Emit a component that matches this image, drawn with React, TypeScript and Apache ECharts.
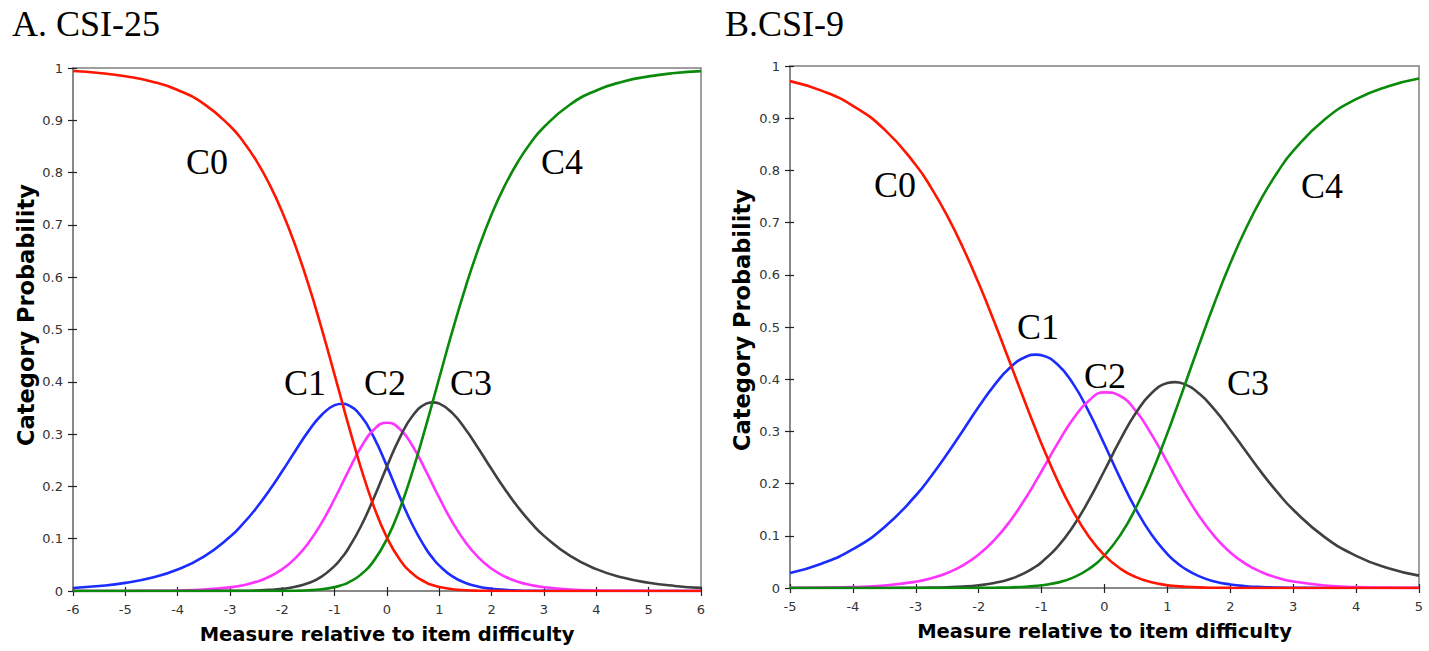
import React, { useEffect, useRef } from "react";
import * as echarts from "echarts";

// ---------- Panel A: CSI-25 ----------
const xsA = [-6, -5.5, -5, -4.5, -4, -3.5, -3, -2.75, -2.5, -2.25, -2, -1.75, -1.5, -1.25, -1, -0.85, -0.75, -0.5, -0.25, 0, 0.25, 0.5, 0.75, 0.87, 1, 1.25, 1.5, 1.75, 2, 2.25, 2.5, 2.75, 3, 3.5, 4, 4.5, 5, 5.5, 6];
const c0A = [0.9942, 0.9905, 0.9843, 0.9743, 0.9579, 0.9314, 0.8892, 0.8598, 0.8233, 0.7785, 0.7243, 0.66, 0.5856, 0.5022, 0.4128, 0.3581, 0.322, 0.2361, 0.1612, 0.1019, 0.0594, 0.0321, 0.0161, 0.0113, 0.0076, 0.0034, 0.0015, 0.0006, 0.0003, 0.0001, 0.0, 0, 0, 0, 0, 0, 0, 0, 0];
const c1A = [0.0058, 0.0095, 0.0155, 0.0253, 0.0411, 0.0658, 0.1036, 0.1286, 0.1581, 0.192, 0.2293, 0.2683, 0.3057, 0.3366, 0.3553, 0.3581, 0.3559, 0.335, 0.2937, 0.2383, 0.1785, 0.1238, 0.0799, 0.0633, 0.0485, 0.0279, 0.0154, 0.0082, 0.0043, 0.0022, 0.0011, 0.0005, 0.0003, 0.0001, 0, 0, 0, 0, 0];
const c2A = [0.0, 0.0001, 0.0001, 0.0004, 0.001, 0.0027, 0.007, 0.0111, 0.0175, 0.0273, 0.0419, 0.0629, 0.0921, 0.1302, 0.1764, 0.2066, 0.2269, 0.2743, 0.3088, 0.3217, 0.3094, 0.2754, 0.2283, 0.204, 0.1779, 0.1315, 0.0932, 0.0638, 0.0425, 0.0277, 0.0178, 0.0113, 0.0071, 0.0027, 0.001, 0.0004, 0.0001, 0.0001, 0.0];
const c3A = [0, 0, 0, 0, 0.0, 0.0001, 0.0003, 0.0005, 0.0011, 0.0021, 0.0042, 0.0081, 0.0152, 0.0276, 0.0481, 0.0654, 0.0794, 0.1233, 0.1782, 0.2383, 0.2943, 0.3364, 0.3581, 0.3607, 0.3582, 0.34, 0.3093, 0.2719, 0.2327, 0.195, 0.1607, 0.1308, 0.1054, 0.067, 0.0418, 0.0258, 0.0158, 0.0097, 0.0059];
const c4A = [0, 0, 0, 0, 0, 0, 0, 0, 0.0, 0.0001, 0.0002, 0.0006, 0.0014, 0.0033, 0.0074, 0.0117, 0.0157, 0.0313, 0.0581, 0.0998, 0.1583, 0.2324, 0.3176, 0.3607, 0.4079, 0.4972, 0.5807, 0.6555, 0.7203, 0.775, 0.8203, 0.8574, 0.8872, 0.9302, 0.9571, 0.9738, 0.984, 0.9903, 0.9941];

// ---------- Panel B: CSI-9 ----------
const xsB = [-5, -4.5, -4, -3.5, -3, -2.75, -2.5, -2.25, -2, -1.75, -1.5, -1.25, -1.08, -1, -0.75, -0.5, -0.25, 0, 0.25, 0.5, 0.75, 1, 1.12, 1.25, 1.5, 1.75, 2, 2.25, 2.5, 2.75, 3, 3.5, 4, 4.5, 5];
const c0B = [0.971, 0.9528, 0.9238, 0.8786, 0.8104, 0.7655, 0.7128, 0.6519, 0.5836, 0.5092, 0.4309, 0.3519, 0.2997, 0.2759, 0.2066, 0.1469, 0.0988, 0.0626, 0.0372, 0.0208, 0.0109, 0.0054, 0.0038, 0.0026, 0.0012, 0.0005, 0.0002, 0.0001, 0.0, 0, 0, 0, 0, 0, 0];
const c1B = [0.0287, 0.0465, 0.0743, 0.1165, 0.1772, 0.215, 0.257, 0.3019, 0.347, 0.3887, 0.4223, 0.4429, 0.4471, 0.4459, 0.4287, 0.3915, 0.338, 0.2749, 0.2101, 0.1508, 0.1018, 0.0649, 0.0513, 0.0393, 0.0227, 0.0126, 0.0068, 0.0035, 0.0018, 0.0009, 0.0005, 0.0001, 0.0, 0, 0];
const c2B = [0.0003, 0.0007, 0.0019, 0.0048, 0.012, 0.0187, 0.0288, 0.0434, 0.064, 0.0921, 0.1285, 0.173, 0.207, 0.2237, 0.2761, 0.3238, 0.3589, 0.3748, 0.3678, 0.339, 0.2938, 0.2405, 0.2143, 0.1868, 0.1386, 0.0988, 0.0682, 0.0459, 0.0302, 0.0195, 0.0124, 0.0049, 0.0019, 0.0007, 0.0003];
const c3B = [0, 0, 0.0, 0.0001, 0.0004, 0.0007, 0.0014, 0.0027, 0.0052, 0.0096, 0.0172, 0.0298, 0.0422, 0.0494, 0.0783, 0.1179, 0.1679, 0.2251, 0.2836, 0.3356, 0.3735, 0.3925, 0.3944, 0.3915, 0.3729, 0.3416, 0.3028, 0.2613, 0.2206, 0.1831, 0.1499, 0.0975, 0.0617, 0.0384, 0.0237];
const c4B = [0, 0, 0, 0, 0, 0, 0.0, 0.0001, 0.0002, 0.0005, 0.0011, 0.0024, 0.004, 0.0051, 0.0103, 0.0199, 0.0363, 0.0626, 0.1012, 0.1538, 0.2199, 0.2967, 0.3361, 0.3799, 0.4647, 0.5465, 0.622, 0.6892, 0.7473, 0.7965, 0.8372, 0.8975, 0.9364, 0.9609, 0.9761];

const categoryNames = ["C0", "C1", "C2", "C3", "C4"];
const colors = ["#ff1500", "#1a2cff", "#ff33ff", "#404040", "#0a8a0a"];
const panelTitles = ["A. CSI-25", "B.CSI-9"];
const xTitle = "Measure relative to item difficulty";
const yTitle = "Category Probability";

const AXIS_GREY = "#808080";
const LABEL_COLOR = "#333333";
const sansFont = "'DejaVu Sans', 'Liberation Sans', Arial, sans-serif";
const serifFont = "'Liberation Serif', 'Times New Roman', serif";

function pairs(xs: number[], ys: number[]) {
  return xs.map((x, i) => [x, ys[i]]);
}

function mainX(grid: number, min: number, max: number) {
  return {
    type: "value",
    gridIndex: grid,
    min,
    max,
    interval: 1,
    position: "bottom",
    axisLine: { show: true, onZero: false, lineStyle: { color: AXIS_GREY, width: 1.5 } },
    axisTick: { show: true, inside: false, length: 5, lineStyle: { color: "#222", width: 1.2 } },
    axisLabel: { margin: 12, fontSize: 13, color: LABEL_COLOR, fontFamily: sansFont },
    splitLine: { show: false },
    name: xTitle,
    nameLocation: "middle",
    nameGap: 33,
    nameTextStyle: { fontFamily: sansFont, fontWeight: "bold", fontSize: 19.5, color: "#000" },
  };
}
function innerX(grid: number, min: number, max: number) {
  return {
    type: "value",
    gridIndex: grid,
    min,
    max,
    interval: 1,
    position: "bottom",
    axisLine: { show: false, onZero: false },
    axisTick: { show: true, inside: true, length: 4, lineStyle: { color: "#222", width: 1.2 } },
    axisLabel: { show: false },
    splitLine: { show: false },
  };
}
function mainY(grid: number) {
  return {
    type: "value",
    gridIndex: grid,
    min: 0,
    max: 1,
    interval: 0.1,
    position: "left",
    axisLine: { show: true, onZero: false, lineStyle: { color: AXIS_GREY, width: 1.5 } },
    axisTick: { show: true, inside: false, length: 5, lineStyle: { color: "#222", width: 1.2 } },
    axisLabel: { margin: 10, fontSize: 13, color: LABEL_COLOR, fontFamily: sansFont },
    splitLine: { show: false },
  };
}
function innerY(grid: number) {
  return {
    type: "value",
    gridIndex: grid,
    min: 0,
    max: 1,
    interval: 0.1,
    position: "left",
    axisLine: { show: false, onZero: false },
    axisTick: { show: true, inside: true, length: 4, lineStyle: { color: "#222", width: 1.2 } },
    axisLabel: { show: false },
    splitLine: { show: false },
  };
}

function seriesFor(xs: number[], sets: number[][], axisIdx: number) {
  const order = [1, 2, 3, 4, 0];
  return order.map((k) => ({
    type: "line",
    name: categoryNames[k] + (axisIdx === 0 ? "A" : "B"),
    xAxisIndex: axisIdx,
    yAxisIndex: axisIdx,
    data: pairs(xs, sets[k]),
    smooth: 0.5,
    showSymbol: false,
    symbol: "none",
    lineStyle: { color: colors[k], width: 2.6 },
    itemStyle: { color: colors[k] },
    z: 3,
  }));
}

// label positions (annotations)
const labelPosA = [[207, 162], [305, 383], [385, 383], [471, 383], [562, 162]];
const labelPosB = [[895, 185], [1038, 327], [1105, 376], [1248, 383], [1322, 186]];
const yTitlePos = [[26, 315], [742, 320]];

function labelGraphics() {
  const out: any[] = [];
  [labelPosA, labelPosB].forEach((pos) => {
    pos.forEach((p, k) => {
      out.push({
        type: "text",
        x: p[0],
        y: p[1],
        z: 10,
        style: {
          text: categoryNames[k],
          fontFamily: serifFont,
          fontSize: 36,
          fill: "#000",
          textAlign: "center",
          textVerticalAlign: "middle",
        },
      });
    });
  });
  yTitlePos.forEach((p) => {
    out.push({
      type: "text",
      x: p[0],
      y: p[1],
      rotation: Math.PI / 2,
      style: {
        text: yTitle,
        fontFamily: sansFont,
        fontWeight: "bold",
        fontSize: 22.5,
        fill: "#000",
        textAlign: "center",
        textVerticalAlign: "middle",
      },
    });
  });
  out.push({
    type: "text",
    x: 12,
    y: 24,
    style: { text: panelTitles[0], fontFamily: serifFont, fontSize: 36, fill: "#000", textAlign: "left", textVerticalAlign: "middle" },
  });
  out.push({
    type: "text",
    x: 725,
    y: 24,
    style: { text: panelTitles[1], fontFamily: serifFont, fontSize: 36, fill: "#000", textAlign: "left", textVerticalAlign: "middle" },
  });
  return out;
}

export default function App() {
  const ref = useRef<HTMLDivElement>(null);
  useEffect(() => {
    const chart = echarts.init(ref.current!, null, { renderer: "svg" });
    const option: any = {
      animation: false,
      backgroundColor: "#fff",
      grid: [
        { left: 73, top: 68, width: 628, height: 523, show: true, borderColor: AXIS_GREY, borderWidth: 1.5, backgroundColor: "transparent" },
        { left: 790, top: 66, width: 629, height: 522, show: true, borderColor: AXIS_GREY, borderWidth: 1.5, backgroundColor: "transparent" },
      ],
      xAxis: [mainX(0, -6, 6), innerX(0, -6, 6), mainX(1, -5, 5), innerX(1, -5, 5)],
      yAxis: [mainY(0), innerY(0), mainY(1), innerY(1)],
      series: [
        ...seriesFor(xsA, [c0A, c1A, c2A, c3A, c4A], 0),
        ...seriesFor(xsB, [c0B, c1B, c2B, c3B, c4B], 2),
      ],
      graphic: labelGraphics(),
    };
    chart.setOption(option);
    return () => chart.dispose();
  }, []);
  return (
    <div
      ref={ref}
      style={{ position: "fixed", left: 0, top: 0, width: 1429, height: 651, background: "#fff" }}
    />
  );
}
